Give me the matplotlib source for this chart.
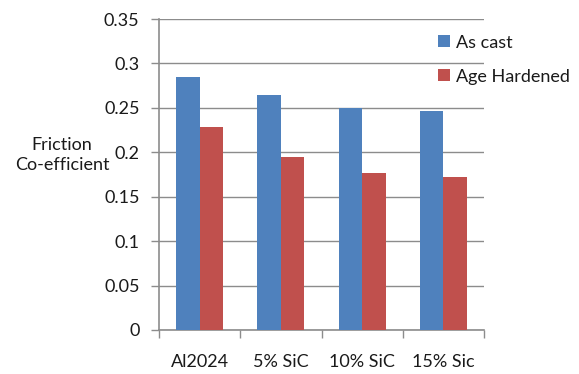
import matplotlib
matplotlib.use("Agg")
import matplotlib.pyplot as plt
import numpy as np

categories = ["Al2024", "5% SiC", "10% SiC", "15% Sic"]
as_cast = [0.285, 0.264, 0.250, 0.246]
age_hardened = [0.228, 0.195, 0.177, 0.172]
series_names = ["As cast", "Age Hardened"]
y_ticks = [0, 0.05, 0.1, 0.15, 0.2, 0.25, 0.3, 0.35]

plt.rcParams["font.family"] = ["Lato", "DejaVu Sans"]
FS = 13
TXT = "#1a1a1a"
GRID = "#8c8c8c"

fig = plt.figure(figsize=(5.79, 3.74), dpi=100)
ax = fig.add_axes([159 / 579, 1 - 330 / 374, (484 - 159) / 579, (330 - 19) / 374])

x = np.arange(len(categories))
w = 0.29
ax.bar(x - w / 2, as_cast, w, color="#4F81BD", label=series_names[0], zorder=3)
ax.bar(x + w / 2, age_hardened, w, color="#C0504D", label=series_names[1], zorder=3)

ax.set_xlim(-0.5, len(categories) - 0.5)
ax.set_ylim(0, 0.35)
ax.set_yticks(y_ticks)
ax.set_yticklabels([f"{v:g}" for v in y_ticks], fontsize=FS, color=TXT)
ax.yaxis.grid(True, color=GRID, linewidth=1.0, zorder=0)

# category ticks sit on group boundaries, labels centred under groups
ax.set_xticks(np.arange(-0.5, len(categories)), minor=False)
ax.set_xticklabels([])
ax.set_xticks(x, minor=True)
ax.set_xticklabels(categories, minor=True, fontsize=FS, color=TXT)
ax.tick_params(axis="x", which="major", length=6, color=GRID, width=1)
ax.tick_params(axis="x", which="minor", length=0, pad=17)
ax.tick_params(axis="y", length=6, color=GRID, width=1, pad=8)

for s in ["top", "right"]:
    ax.spines[s].set_visible(False)
for s in ["left", "bottom"]:
    ax.spines[s].set_color(GRID)
    ax.spines[s].set_linewidth(1.2)

fig.text(62 / 579, 1 - 155 / 374, "Friction\nCo-efficient", ha="center", va="center",
         fontsize=FS, color=TXT, linespacing=1.35)

leg = ax.legend(loc="upper left", bbox_to_anchor=(0.858, 0.95), frameon=False,
                fontsize=FS, handlelength=0.65, handleheight=0.65, handletextpad=0.33,
                labelspacing=1.0, borderaxespad=0, borderpad=0)
for t in leg.get_texts():
    t.set_color(TXT)

fig.savefig("out.png", dpi=100)
